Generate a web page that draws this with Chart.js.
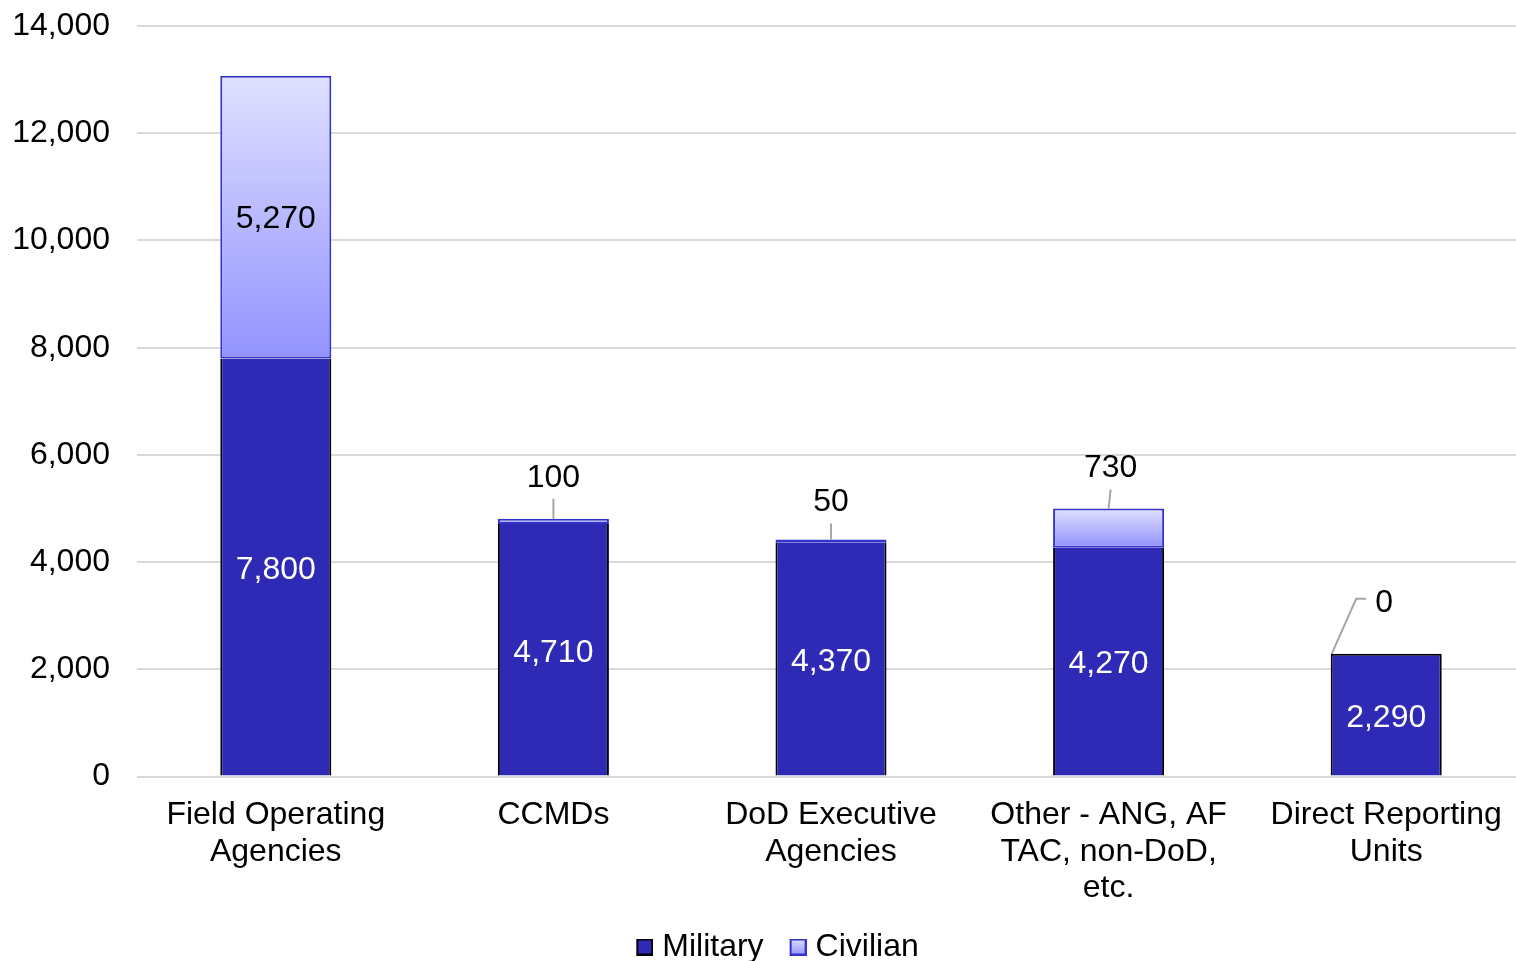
<!DOCTYPE html>
<html>
<head>
<meta charset="utf-8">
<script src="https://cdn.jsdelivr.net/npm/chart.js@4/dist/chart.umd.min.js"></script>
<style>
  html, body { margin: 0; padding: 0; background: #fff; overflow: hidden; }
  #wrap { position: relative; width: 1525px; height: 961px; }
</style>
</head>
<body>
<div id="wrap"><canvas id="units-chart"></canvas></div>
<script>
const categories = [
  ["Field Operating", "Agencies"],
  ["CCMDs"],
  ["DoD Executive", "Agencies"],
  ["Other - ANG, AF", "TAC, non-DoD,", "etc."],
  ["Direct Reporting", "Units"]
];
const military = [7800, 4710, 4370, 4270, 2290];
const civilian = [5270, 100, 50, 730, 0];
const yTicks = [0, 2000, 4000, 6000, 8000, 10000, 12000, 14000];

const FONT = "'Liberation Sans', Arial, sans-serif";
const milColor = 'rgb(46, 42, 182)';
const civBorder = 'rgb(50, 50, 204)';
const civLight = 'rgb(224, 224, 255)';
const civDark = 'rgb(146, 146, 255)';

const fmt = v => Number(v).toLocaleString('en-US');

// legend swatches: transparent on the left, 17px square on the right
function swatch(fill, stroke) {
  const c = document.createElement('canvas');
  c.width = 46; c.height = 17;
  const x = c.getContext('2d');
  if (fill === 'grad') {
    const g = x.createLinearGradient(0, 0, 0, 17);
    g.addColorStop(0, civLight);
    g.addColorStop(1, civDark);
    x.fillStyle = g;
  } else {
    x.fillStyle = fill;
  }
  x.fillRect(29, 0, 17, 17);
  x.strokeStyle = stroke;
  x.lineWidth = 2;
  x.strokeRect(30, 1, 15, 15);
  return c;
}
const icons = [swatch(milColor, '#000'), swatch('grad', civBorder)];

// labels + callouts
const valueLabels = {
  id: 'valueLabels',
  afterLayout(chart) {
    chart.legend.left -= 2;
    chart.legend.right -= 2;
  },
  afterDatasetsDraw(chart, args, opts) {
    const ctx = chart.ctx;
    const milMeta = chart.getDatasetMeta(0);
    const civMeta = chart.getDatasetMeta(1);
    ctx.save();
    ctx.font = '32px ' + FONT;
    ctx.textAlign = 'center';
    ctx.textBaseline = 'middle';
    military.forEach((v, i) => {
      const b = milMeta.data[i];
      ctx.fillStyle = '#fff';
      ctx.fillText(fmt(v), b.x, (b.y + b.base) / 2 + 3);
    });
    civilian.forEach((v, i) => {
      const b = civMeta.data[i];
      const co = opts.callouts[i];
      ctx.fillStyle = '#000';
      if (!co) {
        ctx.fillText(fmt(v), b.x, (b.y + b.base) / 2 + 2);
        return;
      }
      const lx = b.x + co.dx, ly = b.y + co.dy;
      ctx.fillText(fmt(v), lx, ly);
      ctx.strokeStyle = '#a6a6a6';
      ctx.lineWidth = 2;
      ctx.beginPath();
      if (co.elbow) {
        const left = b.x - b.width / 2 + 1;
        ctx.moveTo(left, b.y);
        ctx.lineTo(lx - 28, ly - 4);
        ctx.lineTo(lx - 18, ly - 4);
      } else {
        ctx.moveTo(b.x + co.dx, ly + 21);
        ctx.lineTo(b.x, b.y);
      }
      ctx.stroke();
    });
    ctx.restore();
  }
};

const unitsCtx = document.getElementById('units-chart').getContext('2d');

const unitsChart = new Chart(unitsCtx, {
  type: 'bar',
  data: {
    labels: categories,
    datasets: [{
      label: 'Military',
      data: military,
      backgroundColor: milColor,
      borderColor: '#000',
      borderWidth: c => ({ top: civilian[c.dataIndex] ? 0 : 2, left: 2, right: 2, bottom: 0 }),
      borderSkipped: false
    }, {
      label: 'Civilian',
      data: civilian,
      backgroundColor: function (c) {
        const chart = c.chart;
        if (!chart.chartArea || c.type !== 'data') return civDark;
        const y = chart.scales.y;
        const i = c.dataIndex;
        const top = y.getPixelForValue(military[i] + civilian[i]);
        const base = y.getPixelForValue(military[i]);
        if (base - top < 1) return civDark;
        const g = chart.ctx.createLinearGradient(0, top, 0, base);
        g.addColorStop(0, civLight);
        g.addColorStop(1, civDark);
        return g;
      },
      borderColor: civBorder,
      borderWidth: c => (c.raw ? 2 : 0),
      borderSkipped: false
    }]
  },
  options: {
    responsive: true,
    maintainAspectRatio: false,
    animation: false,
    devicePixelRatio: 1,
    datasets: {
      bar: { barPercentage: 0.4, categoryPercentage: 1.0 }
    },
    layout: { padding: { left: 12, top: 26, right: 0, bottom: -12 } },
    scales: {
      x: {
        stacked: true,
        afterFit: axis => { axis.height += 8; },
        grid: { display: false },
        border: { display: false },
        ticks: {
          color: '#000',
          font: { family: FONT, size: 32, lineHeight: 1.15 },
          maxRotation: 0,
          autoSkip: false,
          padding: 12
        }
      },
      y: {
        stacked: true,
        min: 0,
        max: 14000,
        afterBuildTicks: axis => { axis.ticks = yTicks.map(v => ({ value: v })); },
        afterFit: axis => {
          axis.width = 125;
          axis.paddingTop = 19;
          axis.paddingBottom = 19;
        },
        grid: { color: '#d9d9d9', lineWidth: 2, drawTicks: false },
        border: { display: false },
        ticks: {
          color: '#000',
          font: { family: FONT, size: 32 },
          padding: 27,
          callback: v => fmt(v)
        }
      }
    },
    plugins: {
      legend: {
        position: 'bottom',
        labels: {
          color: '#000',
          font: { family: FONT, size: 32 },
          usePointStyle: true,
          boxWidth: 32,
          boxHeight: 16,
          padding: 4,
          generateLabels: chart => {
            const items = Chart.defaults.plugins.legend.labels.generateLabels(chart);
            items.forEach((it, k) => { it.pointStyle = icons[k]; });
            return items;
          }
        }
      },
      tooltip: { enabled: false },
      valueLabels: {
        callouts: [
          null,
          { dx: 0, dy: -41 },
          { dx: 0, dy: -37 },
          { dx: 2, dy: -40 },
          { dx: -2, dy: -51, elbow: true }
        ]
      }
    }
  },
  plugins: [valueLabels]
});
</script>
</body>
</html>
